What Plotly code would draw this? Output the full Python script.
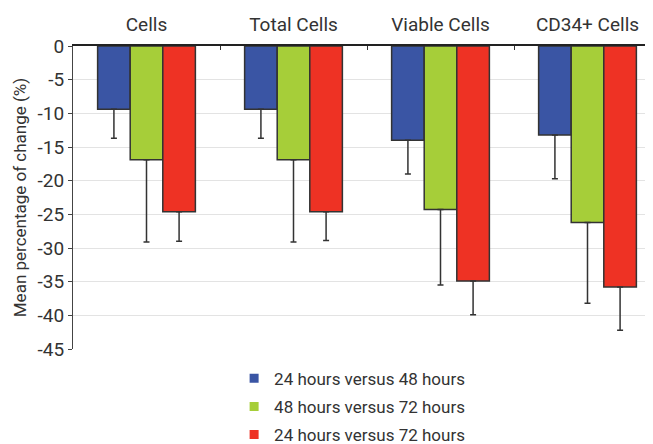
import plotly.graph_objects as go

categories = ["Cells", "Total Cells", "Viable Cells", "CD34+ Cells"]
series_names = ["24 hours versus 48 hours", "48 hours versus 72 hours", "24 hours versus 72 hours"]
blue_vals = [-9.4, -9.4, -14.0, -13.2]
blue_err = [4.3, 4.3, 5.0, 6.5]
green_vals = [-16.9, -16.9, -24.3, -26.2]
green_err = [12.2, 12.2, 11.2, 12.0]
red_vals = [-24.6, -24.6, -34.9, -35.8]
red_err = [4.4, 4.3, 5.0, 6.4]
colors = ["#3A55A4", "#A6CE39", "#EE3224"]
y_ticks = [0, -5, -10, -15, -20, -25, -30, -35, -40, -45]

FONT = "Roboto, sans-serif"

fig = go.Figure()
for name, vals, errs, col in zip(series_names, [blue_vals, green_vals, red_vals],
                                 [blue_err, green_err, red_err], colors):
    fig.add_trace(go.Bar(
        x=categories, y=vals, name=name, showlegend=False,
        marker=dict(color=col, line=dict(color="#333333", width=1.5)),
        error_y=dict(type="data", symmetric=False, array=[0] * len(errs), arrayminus=errs,
                     color="#333333", thickness=1.5, width=3),
    ))
# legend entries with small square symbols
for i, (name, col) in enumerate(zip(series_names, colors)):
    fig.add_trace(go.Scatter(
        x=[None], y=[None], mode="markers", name=name, legendgroup=f"g{i}",
        marker=dict(symbol="square", size=9, color=col),
    ))

fig.update_layout(
    width=653, height=444,
    margin=dict(l=65, r=0, t=38, b=103, autoexpand=False),
    paper_bgcolor="white", plot_bgcolor="white",
    barmode="group", bargap=0.335, bargroupgap=0,
    font=dict(family=FONT, size=18, color="#333333"),
    showlegend=True,
    legend=dict(orientation="v", x=0.274, xanchor="left",
                y=-0.039, yanchor="top",
                font=dict(size=17, color="#333333"), itemwidth=30, tracegroupgap=3,
                bgcolor="rgba(0,0,0,0)"),
    xaxis=dict(side="top", range=[-0.5, 3.5], ticks="inside", tickson="boundaries",
               ticklen=4, tickcolor="#333333", showline=True, linecolor="#222222", linewidth=1.5,
               showgrid=False, tickfont=dict(size=19, color="#333333"), automargin=False,
               ticklabelstandoff=6),
    yaxis=dict(range=[-45, 0], tickvals=y_ticks, ticktext=[str(v) for v in y_ticks],
               ticks="outside", ticklen=4, tickcolor="#444444",
               showline=True, linecolor="#444444", linewidth=1,
               showgrid=True, gridcolor="#e3e3e3", gridwidth=1, zeroline=False,
               tickfont=dict(size=19, color="#333333"), automargin=False,
               title=dict(text="Mean percentage of change (%)", font=dict(size=17, color="#333333"), standoff=6)),
)

fig.write_html("out.html")
